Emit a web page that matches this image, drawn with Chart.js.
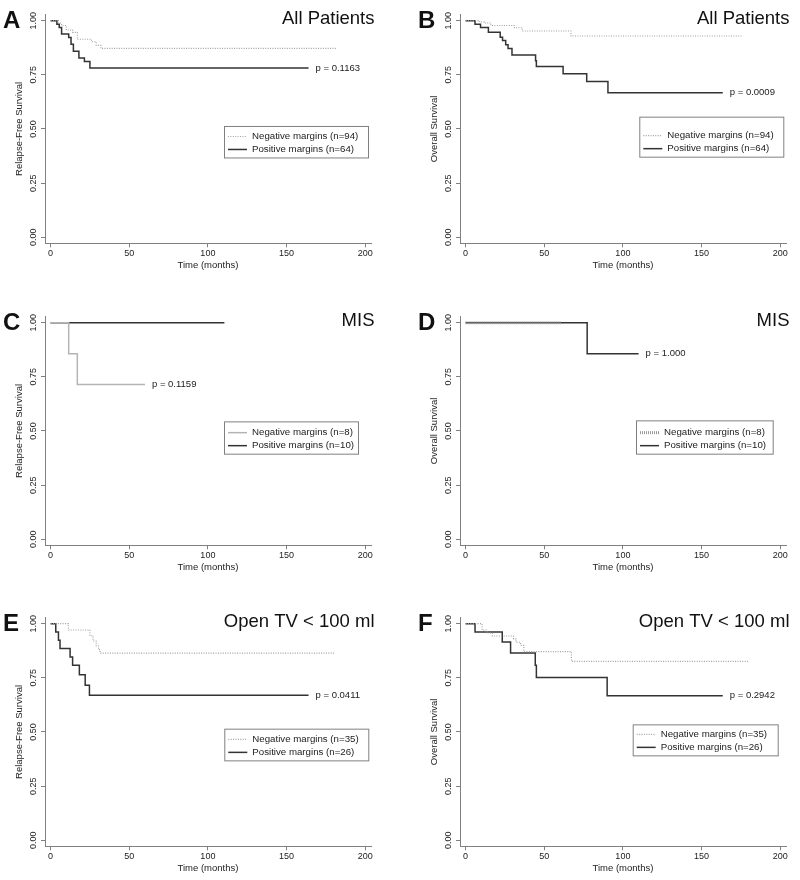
<!DOCTYPE html>
<html>
<head>
<meta charset="utf-8">
<script src="https://cdn.jsdelivr.net/npm/chart.js@4.4.1/dist/chart.umd.min.js"></script>
<style>
  body { margin: 0; background: #fff; }
  canvas { position: absolute; }
</style>
</head>
<body>
<canvas id="pA" width="400" height="277" style="left:0;top:0"></canvas>
<canvas id="pB" width="400" height="277" style="left:400px;top:0"></canvas>
<canvas id="pC" width="400" height="277" style="left:0;top:301.6px"></canvas>
<canvas id="pD" width="400" height="277" style="left:400px;top:301.6px"></canvas>
<canvas id="pE" width="400" height="277" style="left:0;top:602.6px"></canvas>
<canvas id="pF" width="400" height="277" style="left:400px;top:602.6px"></canvas>
<script>
// axis ticks
const xTicks = [0, 50, 100, 150, 200];
const xTickLabels = ['0', '50', '100', '150', '200'];
const yTicks = [0, 0.25, 0.5, 0.75, 1];
const yTickLabels = ['0.00', '0.25', '0.50', '0.75', '1.00'];

// A - relapse-free survival, all patients
const aNegT = [0, 5, 7, 10, 14, 17, 26, 29, 32, 182];
const aNegS = [1, 0.989, 0.978, 0.957, 0.946, 0.914, 0.903, 0.886, 0.872, 0.872];
const aPosT = [0, 4, 5.5, 7, 11.5, 13, 14.5, 18, 21.5, 25, 164];
const aPosS = [1, 0.984, 0.969, 0.938, 0.922, 0.891, 0.859, 0.828, 0.812, 0.781, 0.781];

// B - overall survival, all patients
const bNegT = [0, 9, 12, 16, 31, 36, 67, 176];
const bNegS = [1, 0.994, 0.989, 0.978, 0.967, 0.952, 0.929, 0.929];
const bPosT = [0, 6, 9.5, 14.5, 22, 23.5, 25.5, 27, 29.5, 44.5, 45, 62, 77, 90.5, 163.5];
const bPosS = [1, 0.984, 0.968, 0.946, 0.924, 0.908, 0.889, 0.872, 0.841, 0.815, 0.789, 0.755, 0.719, 0.667, 0.667];

// C - relapse-free survival, MIS
const cNegT = [0, 11.5, 17, 60];
const cNegS = [1, 0.857, 0.714, 0.714];
const cPosT = [0, 110.5];
const cPosS = [1, 1];

// D - overall survival, MIS
const dNegT = [0, 60.5];
const dNegS = [1, 1];
const dPosT = [0, 77.3, 110];
const dPosS = [1, 0.857, 0.857];

// E - relapse-free survival, open TV < 100 ml
const eNegT = [0, 11.3, 25, 27, 29, 30.5, 31.5, 180.5];
const eNegS = [1, 0.971, 0.944, 0.92, 0.897, 0.88, 0.864, 0.864];
const ePosT = [0, 3.3, 5, 6, 12.4, 14, 18.3, 22, 24.7, 164];
const ePosS = [1, 0.962, 0.923, 0.885, 0.846, 0.808, 0.764, 0.716, 0.669, 0.669];

// F - overall survival, open TV < 100 ml
const fNegT = [0, 10.5, 13.5, 17, 30.5, 32, 35, 37, 67.3, 180];
const fNegS = [1, 0.971, 0.957, 0.943, 0.929, 0.914, 0.9, 0.871, 0.826, 0.826];
const fPosT = [0, 6, 23.3, 28.6, 44.3, 45, 90, 163.5];
const fPosS = [1, 0.962, 0.915, 0.865, 0.808, 0.752, 0.667, 0.667];

const letters = ['A', 'B', 'C', 'D', 'E', 'F'];
const titles = ['All Patients', 'All Patients', 'MIS', 'MIS', 'Open TV < 100 ml', 'Open TV < 100 ml'];
const yTitles = ['Relapse-Free Survival', 'Overall Survival', 'Relapse-Free Survival', 'Overall Survival', 'Relapse-Free Survival', 'Overall Survival'];
const negLabels = ['Negative margins (n=94)', 'Negative margins (n=94)', 'Negative margins (n=8)', 'Negative margins (n=8)', 'Negative margins (n=35)', 'Negative margins (n=35)'];
const posLabels = ['Positive margins (n=64)', 'Positive margins (n=64)', 'Positive margins (n=10)', 'Positive margins (n=10)', 'Positive margins (n=26)', 'Positive margins (n=26)'];
const pValues = ['p = 0.1163', 'p = 0.0009', 'p = 0.1159', 'p = 1.000', 'p = 0.0411', 'p = 0.2942'];

const FAM = '"Liberation Sans", Arial, Helvetica, sans-serif';
Chart.defaults.font.family = FAM;

const dotted = { borderColor: '#a0a0a0', borderWidth: 1.1, borderDash: [1, 1.4] };
const lightSolid = { borderColor: '#b4b4b4', borderWidth: 1.5, borderDash: [] };
const hatched = { borderColor: '#999999', borderWidth: 3, borderDash: [1, 1] };
const solid = { borderColor: '#333333', borderWidth: 1.5, borderDash: [] };

// per panel: data, styles, where the p-value sits, legend box (px from chart left / y=1 line)
const panels = [
  { id: 'pA', neg: [aNegT, aNegS], pos: [aPosT, aPosS], negStyle: dotted, pOn: 1, col: 0, lg: { x: 179, y: 105.3, w: 144, h: 31.5 } },
  { id: 'pB', neg: [bNegT, bNegS], pos: [bPosT, bPosS], negStyle: dotted, pOn: 1, col: 1, lg: { x: 179.3, y: 96, w: 144, h: 40 } },
  { id: 'pC', neg: [cNegT, cNegS], pos: [cPosT, cPosS], negStyle: lightSolid, pOn: 0, col: 0, lg: { x: 179, y: 98.7, w: 134, h: 32.3 } },
  { id: 'pD', neg: [dNegT, dNegS], pos: [dPosT, dPosS], negStyle: hatched, pOn: 1, col: 1, lg: { x: 176, y: 97.7, w: 136.7, h: 33.3 } },
  { id: 'pE', neg: [eNegT, eNegS], pos: [ePosT, ePosS], negStyle: dotted, pOn: 1, col: 0, lg: { x: 179.3, y: 105, w: 144, h: 31.7 } },
  { id: 'pF', neg: [fNegT, fNegS], pos: [fPosT, fPosS], negStyle: dotted, pOn: 1, col: 1, lg: { x: 172.7, y: 100.7, w: 145, h: 31 } }
];

function toPoints(t, s) {
  return t.map((v, i) => ({ x: v, y: s[i] }));
}

function makeDeco(i) {
  return {
    id: 'deco' + i,
    afterDraw(chart) {
      const { ctx, chartArea: ca, scales: { x, y } } = chart;
      const y1 = y.getPixelForValue(1);
      const p = panels[i];
      ctx.save();
      ctx.fillStyle = '#222';

      // y tick labels, rotated
      ctx.font = '9px ' + FAM;
      ctx.textAlign = 'center';
      ctx.textBaseline = 'middle';
      yTicks.forEach((v, k) => {
        ctx.save();
        ctx.translate(ca.left - 11.5, y.getPixelForValue(v));
        ctx.rotate(-Math.PI / 2);
        ctx.fillText(yTickLabels[k], 0, 0);
        ctx.restore();
      });

      // axis titles
      ctx.font = '9.5px ' + FAM;
      ctx.save();
      ctx.translate(ca.left - 26, (ca.top + ca.bottom) / 2);
      ctx.rotate(-Math.PI / 2);
      ctx.fillText(yTitles[i], 0, 0);
      ctx.restore();
      ctx.fillText('Time (months)', (ca.left + ca.right) / 2, ca.bottom + 21.7);

      // panel letter + title
      ctx.fillStyle = '#111';
      ctx.textBaseline = 'alphabetic';
      ctx.textAlign = 'left';
      ctx.font = 'bold 24px ' + FAM;
      ctx.fillText(letters[i], ca.left - 42, y1 + 7);
      ctx.textAlign = 'right';
      ctx.font = '18.5px ' + FAM;
      ctx.fillText(titles[i], ca.right + 3.5, y1 + 3.5);

      // p-value at the end of a curve
      const src = p.pOn ? p.pos : p.neg;
      const n = src[0].length - 1;
      ctx.fillStyle = '#222';
      ctx.textAlign = 'left';
      ctx.textBaseline = 'middle';
      ctx.font = '9.5px ' + FAM;
      ctx.fillText(pValues[i], x.getPixelForValue(src[0][n]) + 7, y.getPixelForValue(src[1][n]));

      // legend box
      const lx = ca.left + p.lg.x, ly = y1 + p.lg.y;
      ctx.strokeStyle = '#808080';
      ctx.lineWidth = 1;
      ctx.setLineDash([]);
      ctx.strokeRect(lx + 0.5, ly + 0.5, p.lg.w, p.lg.h);
      const rows = [ly + p.lg.h - 21, ly + p.lg.h - 8];
      const labels = [negLabels[i], posLabels[i]];
      chart.data.datasets.forEach((ds, k) => {
        ctx.save();
        ctx.strokeStyle = ds.borderColor;
        ctx.lineWidth = ds.borderWidth;
        ctx.setLineDash(ds.borderDash || []);
        ctx.beginPath();
        ctx.moveTo(lx + 4, rows[k]);
        ctx.lineTo(lx + 23, rows[k]);
        ctx.stroke();
        ctx.restore();
        ctx.fillStyle = '#222';
        ctx.font = '9.7px ' + FAM;
        ctx.fillText(labels[k], lx + 28, rows[k]);
      });
      ctx.restore();
    }
  };
}

panels.forEach((p, i) => {
  new Chart(document.getElementById(p.id), {
    type: 'line',
    data: {
      datasets: [
        Object.assign({ label: negLabels[i], data: toPoints(p.neg[0], p.neg[1]) }, p.negStyle),
        Object.assign({ label: posLabels[i], data: toPoints(p.pos[0], p.pos[1]) }, solid)
      ]
    },
    options: {
      responsive: false,
      animation: false,
      layout: { padding: { left: p.col ? 15 : 0, right: p.col ? 14 : 29, top: 14.6, bottom: 0 } },
      elements: {
        point: { radius: 0, hoverRadius: 0 },
        line: { stepped: 'before', tension: 0, fill: false, borderCapStyle: 'butt' }
      },
      scales: {
        x: {
          type: 'linear',
          min: -3.55,
          max: 203.7,
          afterBuildTicks: s => { s.ticks = xTicks.map(v => ({ value: v })); },
          afterFit: s => { s.height = 33.7; },
          grid: { display: true, drawOnChartArea: false, tickLength: 4, tickColor: '#808080' },
          border: { display: true, color: '#808080', width: 1 },
          ticks: {
            color: '#222',
            font: { size: 9 },
            padding: 1,
            maxRotation: 0,
            autoSkip: false,
            callback: v => xTickLabels[xTicks.indexOf(v)]
          }
        },
        y: {
          type: 'linear',
          min: -0.0277,
          max: 1.028,
          afterBuildTicks: s => { s.ticks = yTicks.map(v => ({ value: v })); },
          afterFit: s => { s.width = 45; },
          grid: { display: true, drawOnChartArea: false, tickLength: 4, tickColor: '#808080' },
          border: { display: true, color: '#808080', width: 1 },
          ticks: { display: false }
        }
      },
      plugins: {
        legend: { display: false },
        title: { display: false },
        tooltip: { enabled: false }
      }
    },
    plugins: [makeDeco(i)]
  });
});
</script>
</body>
</html>
